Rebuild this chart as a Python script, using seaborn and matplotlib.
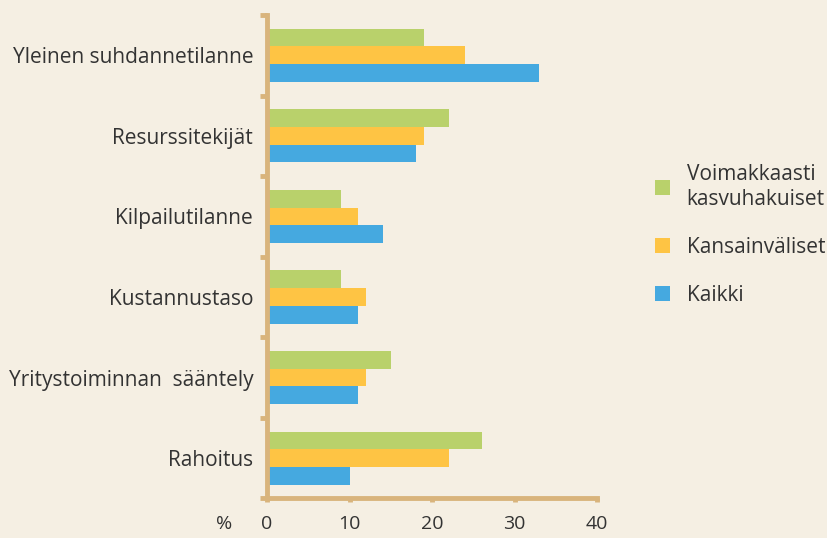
import pandas as pd
import matplotlib.pyplot as plt
import seaborn as sns

# Dati (%)
categorie = ["Yleinen suhdannetilanne", "Resurssitekijät", "Kilpailutilanne",
             "Kustannustaso", "Yritystoiminnan  sääntely", "Rahoitus"]
serie = ["Voimakkaasti\nkasvuhakuiset", "Kansainväliset", "Kaikki"]
voimakkaasti = [19, 22, 9, 9, 15, 26]
kansainvaliset = [24, 19, 11, 12, 12, 22]
kaikki = [33, 18, 14, 11, 11, 10]
colori = ["#B9D16B", "#FEC444", "#45A9E0"]

sfondo = "#F5EFE3"
asse = "#D9B47C"
testo = "#333333"

df = pd.DataFrame({
    "categoria": categorie * 3,
    "serie": [serie[0]] * 6 + [serie[1]] * 6 + [serie[2]] * 6,
    "valore": voimakkaasti + kansainvaliset + kaikki,
})

sns.set_style("white")
plt.rcParams["font.family"] = ["Open Sans", "DejaVu Sans"]

fig = plt.figure(figsize=(8.28, 5.38), dpi=100, facecolor=sfondo)
ax = fig.add_axes([0.3225, 0.0735, 0.3986, 0.8985])
ax.set_facecolor(sfondo)

sns.barplot(data=df, x="valore", y="categoria", hue="serie", hue_order=serie,
            order=categorie, palette=colori, orient="h", width=0.66,
            saturation=1, linewidth=0, ax=ax)

ax.set_xlim(0, 40)
ax.set_ylim(5.5, -0.5)
ax.set_xticks([0, 10, 20, 30, 40])
ax.set_xlabel("")
ax.set_ylabel("")

for lato in ["top", "right"]:
    ax.spines[lato].set_visible(False)
for lato in ["left", "bottom"]:
    ax.spines[lato].set_color(asse)
    ax.spines[lato].set_linewidth(3.5)

ax.set_yticks([i + 0.5 for i in range(-1, 6)], minor=True)
ax.tick_params(axis="y", which="major", left=False, length=0, pad=10, labelsize=15,
               labelcolor=testo)
ax.tick_params(axis="y", which="minor", left=True, length=5, width=3.5, color=asse,
               direction="out")
ax.tick_params(axis="x", which="major", bottom=True, length=3, width=3.5, color=asse,
               direction="out", pad=9, labelsize=14, labelcolor=testo)

# "%" allineato alle etichette dell'asse x
ax.annotate("%", xy=(-0.13, 0), xycoords="axes fraction", xytext=(0, -12),
            textcoords="offset points", fontsize=14, color=testo, ha="center", va="top")

leg = ax.legend(loc="center left", bbox_to_anchor=(1.12, 0.545), frameon=False,
                fontsize=15, handlelength=0.7, handleheight=0.7, labelspacing=1.3,
                handletextpad=0.8, labelcolor=testo)

plt.savefig("out.png", dpi=100, facecolor=sfondo)
